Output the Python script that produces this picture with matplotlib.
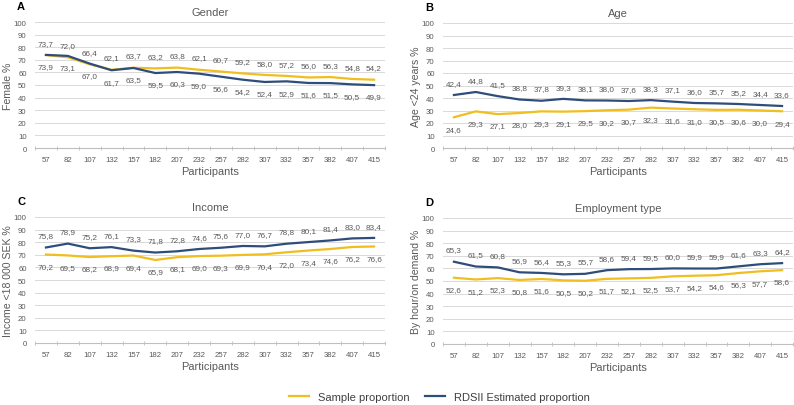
import matplotlib.pyplot as plt
import numpy as np

plt.rcParams['font.family'] = ['Liberation Sans', 'DejaVu Sans']

participants = ["57", "82", "107", "132", "157", "182", "207", "232", "257", "282",
                "307", "332", "357", "382", "407", "415"]

gender_sample = [73.7, 72.0, 66.4, 62.1, 63.7, 63.2, 63.8, 62.1, 60.7, 59.2, 58.0, 57.2, 56.0, 56.3, 54.8, 54.2]
gender_rds = [73.9, 73.1, 67.0, 61.7, 63.5, 59.5, 60.3, 59.0, 56.6, 54.2, 52.4, 52.9, 51.6, 51.5, 50.5, 49.9]

age_sample = [24.6, 29.3, 27.1, 28.0, 29.3, 29.1, 29.5, 30.2, 30.7, 32.3, 31.6, 31.0, 30.5, 30.6, 30.0, 29.4]
age_rds = [42.4, 44.8, 41.5, 38.8, 37.8, 39.3, 38.1, 38.0, 37.6, 38.3, 37.1, 36.0, 35.7, 35.2, 34.4, 33.6]

income_sample = [70.2, 69.5, 68.2, 68.9, 69.4, 65.9, 68.1, 69.0, 69.3, 69.9, 70.4, 72.0, 73.4, 74.6, 76.2, 76.6]
income_rds = [75.8, 78.9, 75.2, 76.1, 73.3, 71.8, 72.8, 74.6, 75.6, 77.0, 76.7, 78.8, 80.1, 81.4, 83.0, 83.4]

employ_sample = [52.6, 51.2, 52.3, 50.8, 51.6, 50.5, 50.2, 51.7, 52.1, 52.5, 53.7, 54.2, 54.6, 56.3, 57.7, 58.6]
employ_rds = [65.3, 61.5, 60.8, 56.9, 56.4, 55.3, 55.7, 58.6, 59.4, 59.5, 60.0, 59.9, 59.9, 61.6, 63.3, 64.2]

amarillo = "#F0BE1E"
azul = "#2E4D7B"
gris = "#595959"

W, H = 794, 406
fig = plt.figure(figsize=(W / 100, H / 100), dpi=100)


def panel(left, top, width, height, letra, titulo, ylabel, sample, rds, sample_arriba):
    ax = fig.add_axes([left / W, (H - top - height) / H, width / W, height / H])
    x = np.arange(len(participants))
    ax.plot(x, sample, color=amarillo, lw=1.6, zorder=3)
    ax.plot(x, rds, color=azul, lw=1.6, zorder=4)

    # etiquetas de datos: una serie arriba, la otra abajo
    arriba, abajo = (sample, rds) if sample_arriba else (rds, sample)
    for i in range(len(x)):
        ax.annotate(f"{arriba[i]:.1f}".replace(".", ","), (x[i], arriba[i]), xytext=(0, 8.5),
                    textcoords="offset points", ha="center", va="center", fontsize=5.9, color=gris)
        ax.annotate(f"{abajo[i]:.1f}".replace(".", ","), (x[i], abajo[i]), xytext=(0, -8.5),
                    textcoords="offset points", ha="center", va="center", fontsize=5.9, color=gris)

    ax.set_xlim(-0.5, len(x) - 0.5)
    ax.set_ylim(0, 100)
    ax.set_yticks(range(0, 101, 10))
    ax.set_xticks(x)
    ax.set_xticklabels(participants)
    ax.set_xticks(np.arange(-0.5, len(x), 1), minor=True)
    ax.tick_params(axis="x", which="major", length=0, labelsize=5.6, colors=gris, pad=6)
    ax.tick_params(axis="x", which="minor", length=3, direction="inout", color="#BFBFBF")
    ax.tick_params(axis="y", length=0, labelsize=5.6, colors=gris, pad=6)
    ax.grid(axis="y", color="#D9D9D9", lw=0.7)
    ax.set_axisbelow(True)
    for s in ["top", "right", "left"]:
        ax.spines[s].set_visible(False)
    ax.spines["bottom"].set_color("#BFBFBF")
    ax.set_title(titulo, fontsize=8, color=gris, pad=5)
    ax.set_xlabel("Participants", fontsize=7.9, color=gris, labelpad=2)
    ax.set_ylabel(ylabel, fontsize=7.6, color=gris)
    ax.yaxis.set_label_coords((13 - 35) / width, 0.5)
    fig.text((left - 18) / W, 1 - 7 / H - (top - 23) / H, letra, fontsize=8,
             fontweight="bold", va="center", ha="left")
    return ax


panel(35, 23, 350, 126, "A", "Gender", "Female %", gender_sample, gender_rds, True)
panel(443, 24, 350, 125, "B", "Age", "Age <24 years %", age_sample, age_rds, False)
panel(35, 218, 350, 126, "C", "Income", "Income <18 000 SEK %", income_sample, income_rds, False)
panel(443, 219, 350, 126, "D", "Employment type", "By hour/on demand %", employ_sample, employ_rds, False)

h1, = plt.plot([], [], color=amarillo, lw=1.6, label="Sample proportion")
h2, = plt.plot([], [], color=azul, lw=1.6, label="RDSII Estimated proportion")
fig.legend(handles=[h1, h2], loc="center", bbox_to_anchor=(0.553, 1 - 398 / H), ncol=2,
           frameon=False, fontsize=8, handlelength=1.8, columnspacing=1.4,
           labelcolor="#404040")

plt.savefig("out.png", dpi=100)
